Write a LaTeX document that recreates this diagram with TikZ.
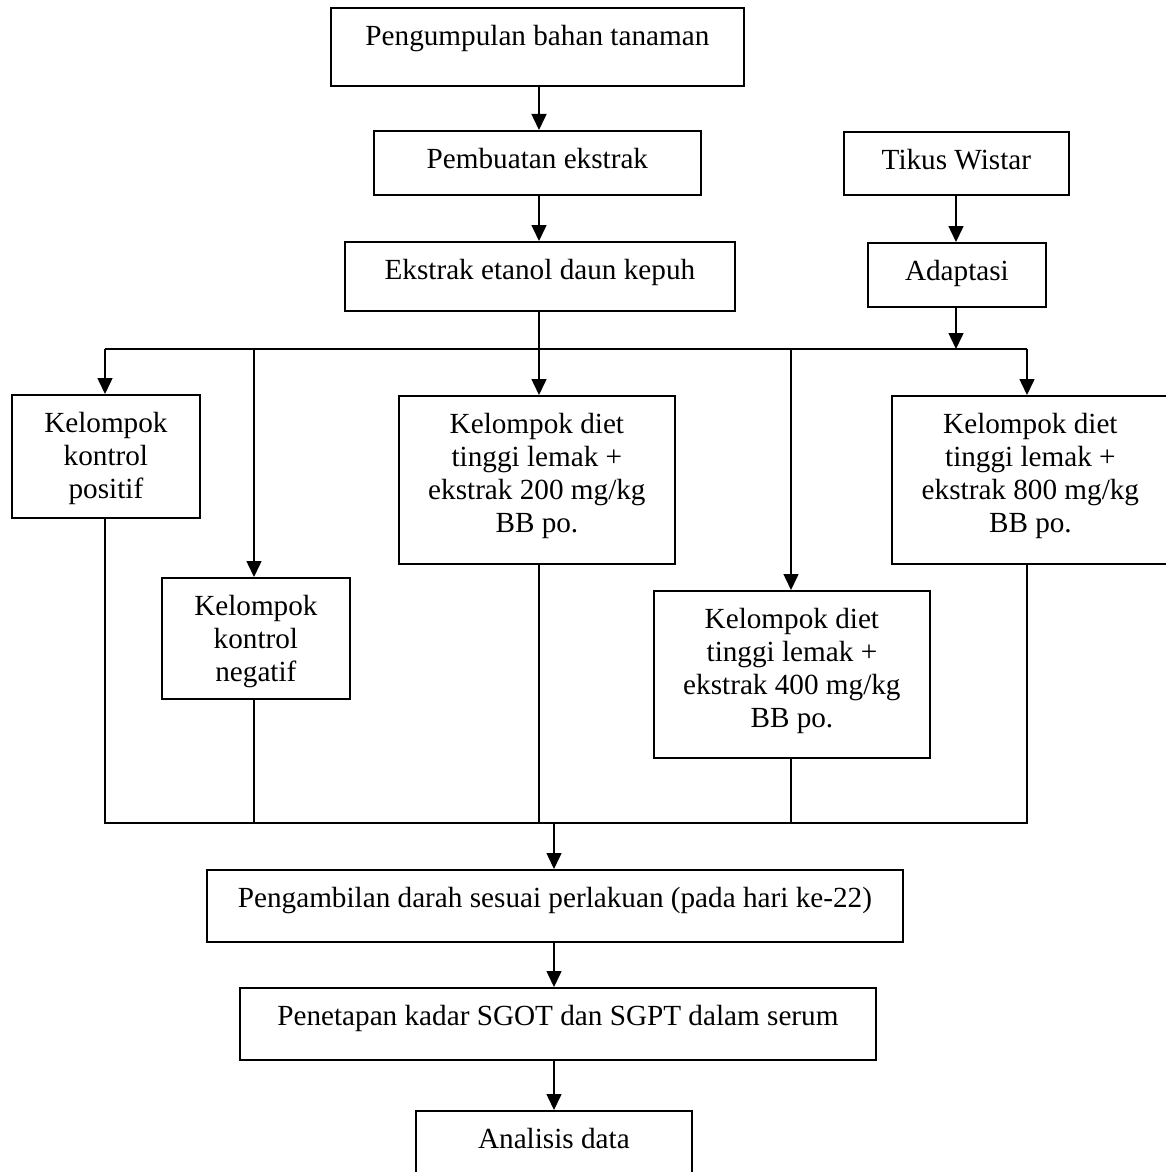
\documentclass[tikz,border=0pt]{standalone}
\usepackage{fontspec}
\setmainfont{Liberation Serif}
\usetikzlibrary{arrows.meta}
\newcommand\boxtext[3]{\parbox[c][#2][t]{#1}{\vspace*{8.5pt}\centering #3\par}}
\tikzset{
  box/.style={draw, line width=0.9pt, inner sep=0pt, anchor=north west,
    font=\fontsize{14.6pt}{16.5pt}\selectfont},
  conn/.style={line width=0.75pt},
  arr/.style={conn, -{Triangle[width=7.5pt,length=8pt]}}
}
\begin{document}
\begin{tikzpicture}[x=0.5pt,y=-0.5pt]
\clip (0,0) rectangle (1166,1172);
\useasboundingbox (0,0) rectangle (1166,1172);
\fill[white] (0,0) rectangle (1166,1172);

\node[box] (b1) at (330,7) {\boxtext{206.5pt}{39pt}{Pengumpulan bahan tanaman}};
\node[box] (b2) at (373,130) {\boxtext{163.5pt}{32pt}{Pembuatan ekstrak}};
\node[box] (b3) at (344,241) {\boxtext{195pt}{34.5pt}{Ekstrak etanol daun kepuh}};
\node[box] (tikus) at (843,131) {\boxtext{112.5pt}{31.5pt}{Tikus Wistar}};
\node[box] (ada) at (867,242) {\boxtext{89pt}{32pt}{Adaptasi}};

\node[box] (kp) at (11,394) {\boxtext{94pt}{61.5pt}{Kelompok\\ kontrol\\ positif}};
\node[box] (kn) at (161,577) {\boxtext{94pt}{60.5pt}{Kelompok\\ kontrol\\ negatif}};
\node[box] (d200) at (398,395) {\boxtext{138pt}{84pt}{Kelompok diet\\ tinggi lemak +\\ ekstrak 200 mg/kg\\ BB po.}};
\node[box] (d400) at (653,590) {\boxtext{138pt}{83.5pt}{Kelompok diet\\ tinggi lemak +\\ ekstrak 400 mg/kg\\ BB po.}};
\node[box] (d800) at (891,395) {\boxtext{138.5pt}{84pt}{Kelompok diet\\ tinggi lemak +\\ ekstrak 800 mg/kg\\ BB po.}};

\node[box] (peng) at (206,869) {\boxtext{348pt}{36pt}{Pengambilan darah sesuai perlakuan (pada hari ke-22)}};
\node[box] (pen) at (239,987) {\boxtext{318pt}{36pt}{Penetapan kadar SGOT dan SGPT dalam serum}};
\node[box] (ana) at (415,1110) {\boxtext{138pt}{36pt}{Analisis data}};

\coordinate (bus) at (0,349);
\coordinate (bbus) at (0,823);
\coordinate (xkp) at (105,0);
\coordinate (xkn) at (254,0);
\coordinate (xmid) at (539,0);
\coordinate (x400) at (791,0);
\coordinate (xr) at (956,0);
\coordinate (x800) at (1027,0);
\coordinate (xout) at (554,0);

% top chain
\draw[arr] (b1.south -| xmid) -- (b2.north -| xmid);
\draw[arr] (b2.south -| xmid) -- (b3.north -| xmid);
\draw[arr] (tikus.south -| xr) -- (ada.north -| xr);
\draw[arr] (ada.south -| xr) -- (bus -| xr);

% distribution bus
\draw[conn] (bus -| xkp) -- (bus -| x800);
\draw[arr] (b3.south -| xmid) -- (d200.north -| xmid);
\draw[arr] (bus -| xkp) -- (kp.north -| xkp);
\draw[arr] (bus -| xkn) -- (kn.north -| xkn);
\draw[arr] (bus -| x400) -- (d400.north -| x400);
\draw[arr] (bus -| x800) -- (d800.north -| x800);

% collection bus
\draw[conn] (kp.south -| xkp) -- (bbus -| xkp) -- (bbus -| x800) -- (d800.south -| x800);
\draw[conn] (kn.south -| xkn) -- (bbus -| xkn);
\draw[conn] (d200.south -| xmid) -- (bbus -| xmid);
\draw[conn] (d400.south -| x400) -- (bbus -| x400);

% bottom chain
\draw[arr] (bbus -| xout) -- (peng.north -| xout);
\draw[arr] (peng.south -| xout) -- (pen.north -| xout);
\draw[arr] (pen.south -| xout) -- (ana.north -| xout);
\end{tikzpicture}
\end{document}
